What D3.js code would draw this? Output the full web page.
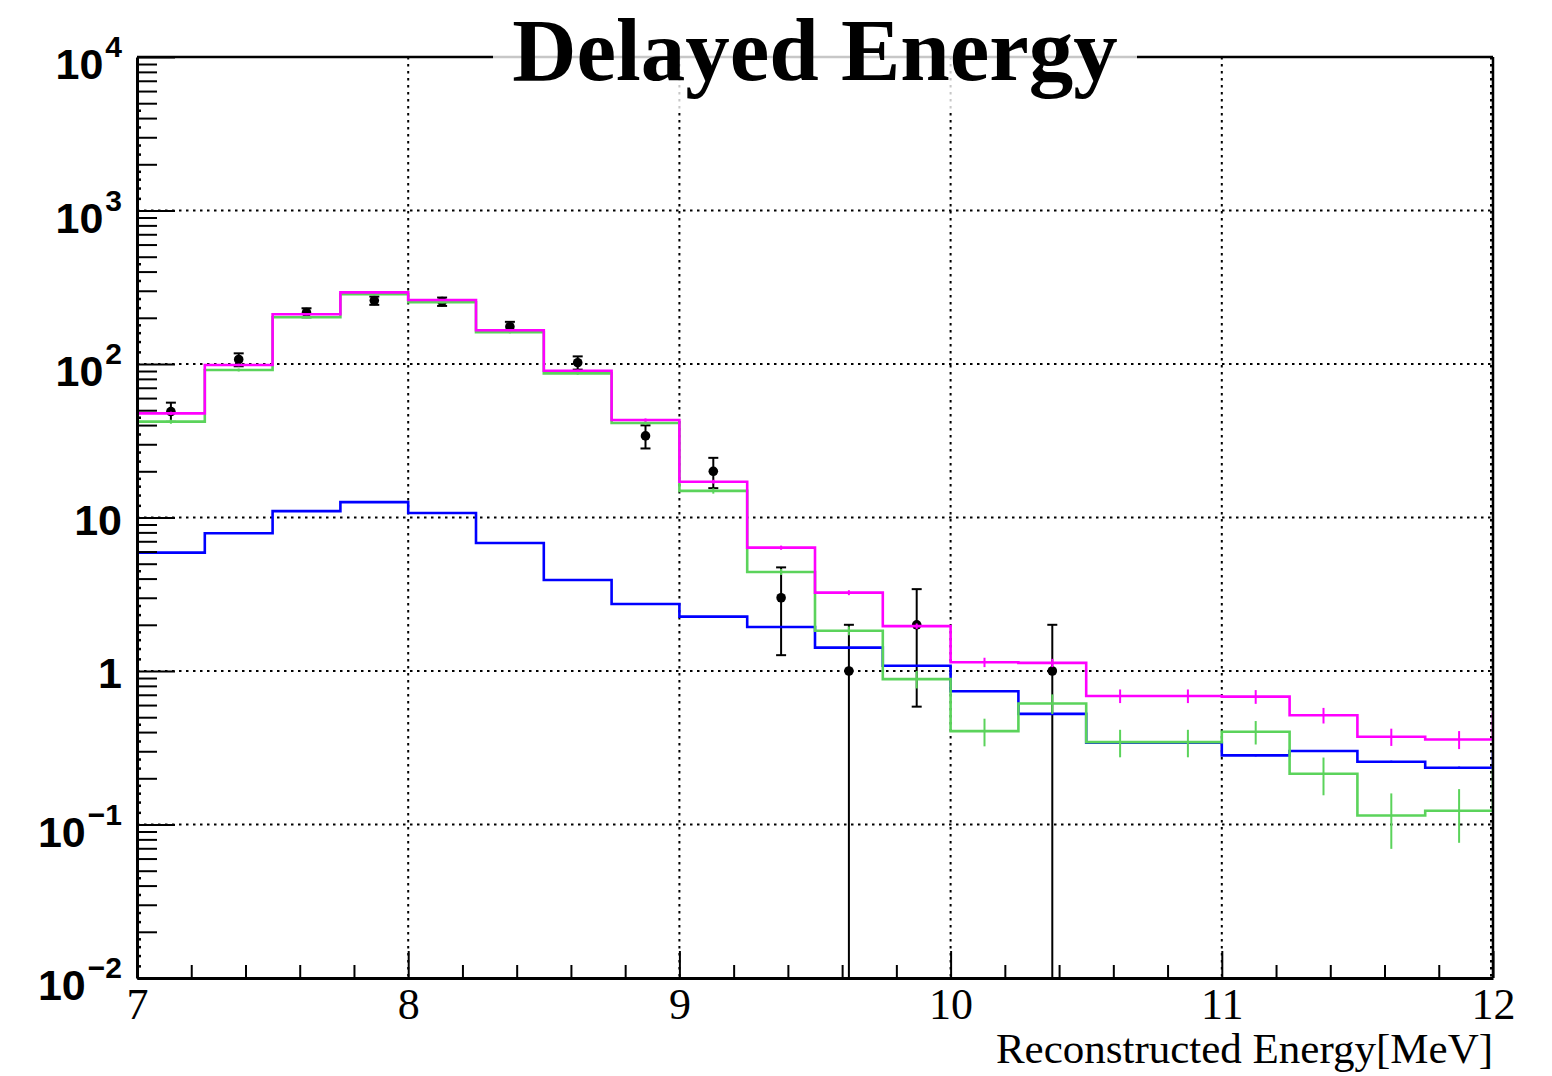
<!DOCTYPE html>
<html>
<head>
<meta charset="utf-8">
<script src="https://cdn.jsdelivr.net/npm/d3@7"></script>
<style>
  body { margin: 0; background: #fff; }
  svg { display: block; }
</style>
</head>
<body>
<svg id="chart" width="1552" height="1076"></svg>
<script>
// ---- Histogram binning (20 bins of 0.25 MeV) ----
const binLow  = [7.00, 7.25, 7.50, 7.75, 8.00, 8.25, 8.50, 8.75, 9.00, 9.25,
                 9.50, 9.75, 10.00, 10.25, 10.50, 10.75, 11.00, 11.25, 11.50, 11.75];
const binHigh = [7.25, 7.50, 7.75, 8.00, 8.25, 8.50, 8.75, 9.00, 9.25, 9.50,
                 9.75, 10.00, 10.25, 10.50, 10.75, 11.00, 11.25, 11.50, 11.75, 12.00];
const binCenter = [7.125, 7.375, 7.625, 7.875, 8.125, 8.375, 8.625, 8.875, 9.125, 9.375,
                   9.625, 9.875, 10.125, 10.375, 10.625, 10.875, 11.125, 11.375, 11.625, 11.875];

// ---- Observed events ----
const dataCounts = [49, 107, 216, 259, 255, 175, 102, 34, 20, 3,
                    1, 2, 0, 1, 0, 0, 0, 0, 0, 0];

// ---- Total prediction (magenta) ----
const totalMC  = [47.7, 98.5, 210.8, 293, 261, 165.8, 90.4, 43.2, 17.1, 6.36,
                  3.24, 1.96, 1.14, 1.13, 0.688, 0.688, 0.681, 0.515, 0.373, 0.358];
const totalErr = [1.2, 1.8, 2.8, 3.2, 3.0, 2.3, 1.6, 1.0, 0.5, 0.2,
                  0.12, 0.08, 0.08, 0.07, 0.07, 0.07, 0.07, 0.06, 0.048, 0.048];

// ---- Signal prediction (green) ----
const signalMC  = [42.1, 91.4, 201.5, 284.5, 252.4, 160.9, 86.9, 41.3, 14.9, 4.42,
                   1.83, 0.885, 0.406, 0.614, 0.344, 0.344, 0.402, 0.214, 0.1144, 0.123];
const signalErr = [1.3, 2.0, 3.0, 3.5, 3.2, 2.6, 1.9, 1.2, 0.6, 0.2,
                   0.12, 0.115, 0.083, 0.09, 0.07, 0.07, 0.07, 0.059, 0.045, 0.047];

// ---- Background prediction (blue) ----
const bkgMC  = [5.90, 7.89, 11.0, 12.6, 10.7, 6.82, 3.92, 2.73, 2.26, 1.935,
                1.419, 1.083, 0.738, 0.526, 0.341, 0.341, 0.282, 0.301, 0.2565, 0.2344];
const bkgErr = [0.04, 0.05, 0.06, 0.07, 0.06, 0.05, 0.03, 0.02, 0.02, 0.015,
                0.012, 0.01, 0.008, 0.006, 0.005, 0.005, 0.004, 0.004, 0.004, 0.004];

// Contents of the neighbouring bins just outside the plotted range
// (they set the end segments of each step outline): [below 7 MeV, above 12 MeV]
const totalOutside  = [30.6, 0.535];
const signalOutside = [24.8, 0.236];
const bkgOutside    = [5.5, 0.298];

// ---- Axis ticks ----
const xMajorTicks = [7, 8, 9, 10, 11, 12];
const xMinorTicks = [7.2, 7.4, 7.6, 7.8, 8.2, 8.4, 8.6, 8.8, 9.2, 9.4, 9.6, 9.8,
                     10.2, 10.4, 10.6, 10.8, 11.2, 11.4, 11.6, 11.8];
const yDecades = [1e-2, 1e-1, 1, 10, 1e2, 1e3, 1e4];
const yDecadeLabels = [["10", "\u22122"], ["10", "\u22121"], ["1", null], ["10", null],
                       ["10", "2"], ["10", "3"], ["10", "4"]];
const yMinorMant = [2, 3, 4, 5, 6, 7, 8, 9];
const yTinyMant  = [1.2, 1.4, 1.6, 1.8, 2.33, 2.67, 3.5, 4.5];

const titleText = "Delayed Energy";
const xTitleText = "Reconstructed Energy[MeV]";

// ---- Layout ----
const L = 137, R = 1493, T = 57, B = 978;
const x = d3.scaleLinear().domain([7, 12]).range([L, R]);
const y = d3.scaleLog().domain([1e-2, 1e4]).range([B, T]);

const svg = d3.select("#chart");

svg.append("defs").append("clipPath").attr("id", "plotClip")
  .append("rect").attr("x", L).attr("y", T).attr("width", R - L).attr("height", B - T);

// ---- Grid ----
const grid = svg.append("g").attr("stroke", "#000").attr("stroke-width", 2)
  .attr("stroke-dasharray", "2.5,4.5");
grid.selectAll("line.gx").data(xMajorTicks.slice(1)).join("line")
  .attr("x1", d => x(d) - (d === 12 ? 2 : 0)).attr("x2", d => x(d) - (d === 12 ? 2 : 0))
  .attr("y1", T).attr("y2", B);
grid.selectAll("line.gy").data(yDecades.slice(1, -1)).join("line")
  .attr("x1", L).attr("x2", R).attr("y1", d => y(d)).attr("y2", d => y(d));

const plot = svg.append("g").attr("clip-path", "url(#plotClip)");

// ---- Observed data: markers with Poisson error bars ----
const dataPts = dataCounts.map((n, i) => ({ x: binCenter[i], n }))
  .filter(d => d.n > 0);
const dataG = plot.append("g").attr("stroke", "#000").attr("stroke-width", 2);
dataPts.forEach(d => {
  const e = Math.sqrt(d.n);
  const hi = d.n + e, lo = d.n - e;
  const cx = x(d.x);
  const yHi = y(hi);
  const yLo = lo > 0 ? y(lo) : B + 10;
  dataG.append("line").attr("x1", cx).attr("x2", cx).attr("y1", yHi).attr("y2", yLo);
  dataG.append("line").attr("x1", cx - 5).attr("x2", cx + 5).attr("y1", yHi).attr("y2", yHi);
  if (lo > 0) {
    dataG.append("line").attr("x1", cx - 5).attr("x2", cx + 5).attr("y1", yLo).attr("y2", yLo);
  }
  dataG.append("circle").attr("cx", cx).attr("cy", y(d.n)).attr("r", 4.8)
    .attr("fill", "#000").attr("stroke", "none");
});

// ---- Step histograms ----
function drawHist(values, errors, outside, color) {
  const pts = [[x(7), y(outside[0])]];
  values.forEach((v, i) => {
    pts.push([x(binLow[i]), y(v)]);
    pts.push([x(binHigh[i]), y(v)]);
  });
  pts.push([x(12), y(outside[1])]);
  const g = plot.append("g");
  g.append("path").attr("d", d3.line()(pts)).attr("fill", "none")
    .attr("stroke", color).attr("stroke-width", 2.6).attr("stroke-linejoin", "miter");
  g.selectAll("line").data(values).join("line")
    .attr("x1", (v, i) => x(binCenter[i])).attr("x2", (v, i) => x(binCenter[i]))
    .attr("y1", (v, i) => y(v + errors[i])).attr("y2", (v, i) => y(Math.max(v - errors[i], 1e-3)))
    .attr("stroke", color).attr("stroke-width", 2);
}
drawHist(bkgMC, bkgErr, bkgOutside, "#0000ff");
drawHist(signalMC, signalErr, signalOutside, "#5bd35b");
drawHist(totalMC, totalErr, totalOutside, "#ff00ff");

// ---- Axes ----
const axisFontSerif = "'Liberation Serif', 'Times New Roman', serif";
const axisFontSans = "'Liberation Sans', Arial, Helvetica, sans-serif";

// bottom axis: minor ticks
svg.append("g").attr("transform", `translate(0,${B})`)
  .call(d3.axisBottom(x).tickValues(xMinorTicks).tickSizeInner(-13).tickSizeOuter(0).tickFormat(""))
  .call(g => g.select(".domain").remove())
  .selectAll("line").attr("stroke-width", 2);

// bottom axis: major ticks + labels
const xAxisG = svg.append("g").attr("transform", `translate(0,${B})`)
  .call(d3.axisBottom(x).tickValues(xMajorTicks).tickSizeInner(-27).tickSizeOuter(0)
    .tickPadding(10).tickFormat(d3.format("d")));
xAxisG.select(".domain").attr("stroke-width", 3);
xAxisG.selectAll(".tick line").attr("stroke-width", 2);
xAxisG.selectAll(".tick text").attr("font-family", axisFontSerif).attr("font-size", 44)
  .attr("fill", "#000");

// left axis: tiny ticks
const tinyVals = [];
yDecades.slice(0, -1).forEach(dec => yTinyMant.forEach(m => tinyVals.push(dec * m)));
svg.append("g").attr("transform", `translate(${L},0)`)
  .call(d3.axisLeft(y).tickValues(tinyVals).tickSizeInner(-4).tickSizeOuter(0).tickFormat(""))
  .call(g => g.select(".domain").remove())
  .selectAll("line").attr("stroke-width", 2.5);

// left axis: minor ticks
const minorVals = [];
yDecades.slice(0, -1).forEach(dec => yMinorMant.forEach(m => minorVals.push(dec * m)));
svg.append("g").attr("transform", `translate(${L},0)`)
  .call(d3.axisLeft(y).tickValues(minorVals).tickSizeInner(-20).tickSizeOuter(0).tickFormat(""))
  .call(g => g.select(".domain").remove())
  .selectAll("line").attr("stroke-width", 2);

// left axis: decade ticks
const yAxisG = svg.append("g").attr("transform", `translate(${L},0)`)
  .call(d3.axisLeft(y).tickValues(yDecades).tickSizeInner(-38).tickSizeOuter(0).tickFormat(""));
yAxisG.select(".domain").attr("stroke-width", 3);
yAxisG.selectAll(".tick line").attr("stroke-width", 2);

// decade labels with superscript exponents
yDecades.forEach((dec, i) => {
  const [base, sup] = yDecadeLabels[i];
  const ty = y(dec);
  const t = svg.append("text").attr("text-anchor", "end").attr("x", 122)
    .attr("font-family", axisFontSans).attr("font-weight", "bold").attr("fill", "#000");
  if (sup) {
    t.attr("y", ty + 22);
    t.append("tspan").attr("font-size", 43).text(base);
    t.append("tspan").attr("font-size", 30).attr("dx", 2).attr("dy", -22).text(sup);
  } else {
    t.attr("y", ty + 17).attr("font-size", 43).text(base);
  }
});

// top and right frame
svg.append("line").attr("x1", L).attr("x2", R).attr("y1", T).attr("y2", T)
  .attr("stroke", "#000").attr("stroke-width", 2.5);
svg.append("line").attr("x1", R).attr("x2", R).attr("y1", T).attr("y2", B)
  .attr("stroke", "#000").attr("stroke-width", 2.5);

// axis title
svg.append("text").attr("x", R).attr("y", 1063).attr("text-anchor", "end")
  .attr("font-family", axisFontSerif).attr("font-size", 43).attr("fill", "#000")
  .text(xTitleText);

// ---- Title box (translucent white) and title ----
svg.append("rect").attr("x", 493).attr("y", 0).attr("width", 644).attr("height", 112)
  .attr("fill", "#fff").attr("fill-opacity", 0.78);
svg.append("text").attr("x", 815).attr("y", 80).attr("text-anchor", "middle")
  .attr("font-family", axisFontSerif).attr("font-weight", "bold").attr("font-size", 89)
  .attr("fill", "#000").text(titleText);
</script>
</body>
</html>
